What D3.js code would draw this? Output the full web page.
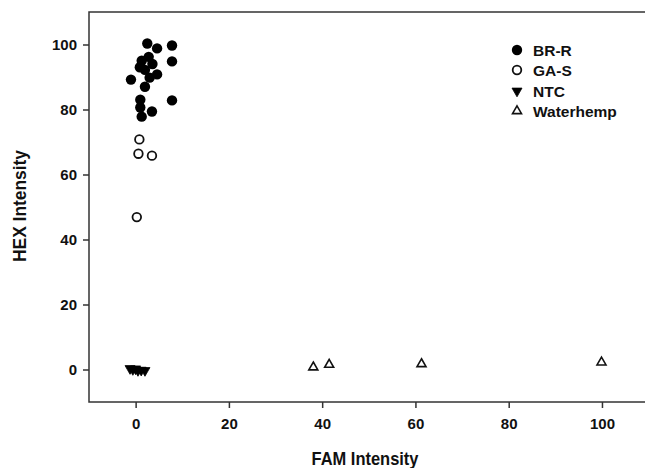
<!DOCTYPE html>
<html>
<head>
<meta charset="utf-8">
<script src="https://cdn.jsdelivr.net/npm/d3@7"></script>
<style>
  html, body { margin: 0; padding: 0; background: #fff; }
  svg { display: block; }
  text { font-family: "Liberation Sans", Arial, sans-serif; font-weight: bold; fill: #111; }
</style>
</head>
<body>
<svg id="chart" width="645" height="468"></svg>
<script>
// FAM vs HEX intensity by sample group
const brR = [
  [2.5, 100.3], [4.6, 98.8], [7.8, 99.7], [7.8, 94.8],
  [2.8, 96.2], [1.3, 95.0], [3.6, 94.0], [0.9, 93.0], [2.0, 92.2],
  [-1.0, 89.2], [3.0, 89.8], [4.6, 90.8], [2.0, 87.0],
  [1.0, 83.0], [1.0, 80.6], [7.8, 82.8], [3.5, 79.4], [1.3, 77.8]
];
const gaS = [[0.8, 70.8], [0.6, 66.4], [3.5, 65.8], [0.25, 46.9]];
const ntc = [[-1.2, 0.3], [-0.6, 0.0], [0.0, 0.2], [0.5, -0.3], [1.2, -0.2], [2.0, -0.3]];
const waterhemp = [[38.1, 0.7], [41.5, 1.5], [61.3, 1.7], [99.9, 2.2]];

const xTicks = [0, 20, 40, 60, 80, 100];
const yTicks = [0, 20, 40, 60, 80, 100];
const legendNames = ["BR-R", "GA-S", "NTC", "Waterhemp"];

const svg = d3.select("#chart");
const x = d3.scaleLinear().domain([-10, 110]).range([89, 648.6]);
const y = d3.scaleLinear().domain([-10, 110]).range([402, 12]);

const axisColor = "#333";

// frame
svg.append("rect")
  .attr("x", x(-10)).attr("y", y(110))
  .attr("width", x(110) - x(-10)).attr("height", y(-10) - y(110))
  .attr("fill", "none").attr("stroke", axisColor).attr("stroke-width", 1.5);

const xAxis = svg.append("g")
  .attr("transform", `translate(0,${y(-10)})`)
  .call(d3.axisBottom(x).tickValues(xTicks).tickSize(6).tickPadding(10));
const yAxis = svg.append("g")
  .attr("transform", `translate(${x(-10)},0)`)
  .call(d3.axisLeft(y).tickValues(yTicks).tickSize(6).tickPadding(6));

[xAxis, yAxis].forEach(g => {
  g.select(".domain").remove();
  g.selectAll(".tick line").attr("stroke", axisColor).attr("stroke-width", 1.5);
  g.selectAll(".tick text").attr("font-size", 15).attr("fill", "#111")
    .attr("font-family", "Liberation Sans, Arial, sans-serif").attr("font-weight", "bold");
});

// axis titles
svg.append("text")
  .attr("x", 365).attr("y", 465)
  .attr("text-anchor", "middle").attr("font-size", 18.5)
  .attr("textLength", 107).attr("lengthAdjust", "spacingAndGlyphs")
  .text("FAM Intensity");
svg.append("text")
  .attr("transform", `translate(26,${206}) rotate(-90)`)
  .attr("text-anchor", "middle").attr("font-size", 18.5)
  .attr("textLength", 112).attr("lengthAdjust", "spacingAndGlyphs")
  .text("HEX Intensity");

// symbols
const triUp = (s) => `M0,${-s * 0.58}L${s / 2},${s * 0.29}L${-s / 2},${s * 0.29}Z`;
const triDown = (s) => `M0,${s * 0.58}L${s / 2},${-s * 0.29}L${-s / 2},${-s * 0.29}Z`;

const styles = [
  { data: brR, draw: g => g.append("circle").attr("r", 5.2).attr("fill", "#000") },
  { data: gaS, draw: g => g.append("circle").attr("r", 4.3).attr("fill", "#fff").attr("stroke", "#111").attr("stroke-width", 1.8) },
  { data: ntc, draw: g => g.append("path").attr("d", triDown(10)).attr("fill", "#000").attr("stroke", "#000").attr("stroke-width", 0.8) },
  { data: waterhemp, draw: g => g.append("path").attr("d", triUp(9)).attr("fill", "#fff").attr("stroke", "#111").attr("stroke-width", 1.6) }
];

styles.forEach(s => {
  s.data.forEach(d => {
    const g = svg.append("g").attr("transform", `translate(${x(d[0])},${y(d[1])})`);
    s.draw(g);
  });
});

// legend
const legendY = [50, 70, 91, 111];
styles.forEach((s, i) => {
  const g = svg.append("g").attr("transform", `translate(517,${legendY[i]})`);
  s.draw(g);
  svg.append("text")
    .attr("x", 533).attr("y", legendY[i]).attr("dy", "0.36em")
    .attr("font-size", 15.5)
    .text(legendNames[i]);
});
</script>
</body>
</html>
